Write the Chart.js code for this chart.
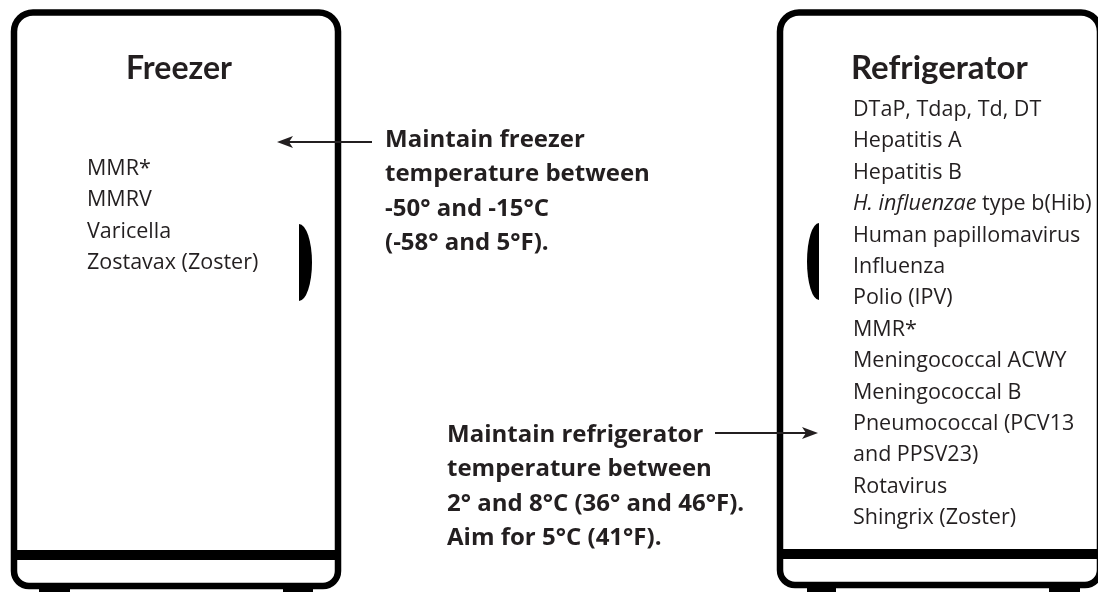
<!DOCTYPE html>
<html>
<head>
<meta charset="utf-8">
<script src="https://cdn.jsdelivr.net/npm/chart.js@4.4.1/dist/chart.umd.min.js"></script>
<style>
  html, body { margin: 0; padding: 0; background: #ffffff; overflow: hidden; }
  #c { display: block; }
</style>
</head>
<body>
<canvas id="c" width="1098" height="592"></canvas>
<script>
// ---- content ----
const freezerTitle = 'Freezer';
const freezerVaccines = ['MMR*', 'MMRV', 'Varicella', 'Zostavax (Zoster)'];
const freezerNote = ['Maintain freezer', 'temperature between', '-50° and -15°C', '(-58° and 5°F).'];

const fridgeTitle = 'Refrigerator';
// text between underscores is italic
const fridgeVaccines = [
  'DTaP, Tdap, Td, DT',
  'Hepatitis A',
  'Hepatitis B',
  '_H. influenzae_ type b(Hib)',
  'Human papillomavirus',
  'Influenza',
  'Polio (IPV)',
  'MMR*',
  'Meningococcal ACWY',
  'Meningococcal B',
  'Pneumococcal (PCV13',
  'and PPSV23)',
  'Rotavirus',
  'Shingrix (Zoster)'
];
const fridgeNote = ['Maintain refrigerator', 'temperature between', '2° and 8°C (36° and 46°F).', 'Aim for 5°C (41°F).'];

// ---- drawing ----
const INK = '#231f20';
const LINE = '#000000';

const illustration = {
  id: 'illustration',
  afterDraw(chart) {
    const ctx = chart.ctx;
    const xs = chart.scales.x, ys = chart.scales.y;
    const X = v => xs.getPixelForValue(v);
    const Y = v => ys.getPixelForValue(v);

    function box(l, t, r, b, rt, rb) {
      l = X(l); r = X(r); t = Y(t); b = Y(b);
      ctx.beginPath();
      ctx.moveTo(l + rt, t);
      ctx.lineTo(r - rt, t);
      ctx.arcTo(r, t, r, t + rt, rt);
      ctx.lineTo(r, b - rb);
      ctx.arcTo(r, b, r - rb, b, rb);
      ctx.lineTo(l + rb, b);
      ctx.arcTo(l, b, l, b - rb, rb);
      ctx.lineTo(l, t + rt);
      ctx.arcTo(l, t, l + rt, t, rt);
      ctx.closePath();
      ctx.stroke();
    }
    function rect(l, t, r, b) {
      ctx.fillRect(X(l), Y(t), X(r) - X(l), Y(b) - Y(t));
    }
    function handle(xFlat, top, bottom, bulge) {
      const cy = (Y(top) + Y(bottom)) / 2, ry = (Y(bottom) - Y(top)) / 2;
      ctx.beginPath();
      if (bulge > 0) ctx.ellipse(X(xFlat), cy, bulge, ry, 0, -Math.PI / 2, Math.PI / 2);
      else ctx.ellipse(X(xFlat), cy, -bulge, ry, 0, Math.PI / 2, Math.PI * 1.5);
      ctx.closePath();
      ctx.fill();
    }
    function arrow(x0, x1, y) {
      const dir = Math.sign(x1 - x0);
      ctx.lineWidth = 2;
      ctx.beginPath();
      ctx.moveTo(X(x0), Y(y));
      ctx.lineTo(X(x1) - dir * 10, Y(y));
      ctx.stroke();
      ctx.beginPath();
      ctx.moveTo(X(x1), Y(y));
      ctx.lineTo(X(x1) - dir * 16, Y(y) - 6);
      ctx.lineTo(X(x1) - dir * 12, Y(y));
      ctx.lineTo(X(x1) - dir * 16, Y(y) + 6);
      ctx.closePath();
      ctx.fill();
    }
    function lines(arr, x, y0, step, font, italicFont) {
      arr.forEach((s, i) => {
        let cx = X(x);
        const cy = Y(y0 + i * step);
        const parts = s.split('_');
        parts.forEach((p, k) => {
          if (!p) return;
          ctx.font = (k % 2 === 1) ? italicFont : font;
          ctx.fillText(p, cx, cy);
          cx += ctx.measureText(p).width;
        });
      });
    }

    ctx.save();
    ctx.strokeStyle = LINE;
    ctx.fillStyle = LINE;
    ctx.lineJoin = 'round';

    // freezer body
    ctx.lineWidth = 6.5;
    box(14, 12.5, 338, 586, 19, 15);
    rect(14, 550, 338, 560);
    rect(39, 586, 70, 592);
    rect(283, 586, 313, 592);
    handle(299, 224, 301, 13);

    // refrigerator body
    ctx.lineWidth = 6.5;
    box(780, 12.5, 1100, 585, 19, 15);
    rect(780, 549, 1100, 559);
    rect(807, 585, 836, 592);
    rect(1049, 585, 1080, 592);
    handle(819, 223, 300, -12);

    // arrows
    ctx.strokeStyle = INK;
    ctx.fillStyle = INK;
    arrow(372, 277, 142);
    arrow(715, 818, 433);

    // text
    ctx.fillStyle = INK;
    ctx.textBaseline = 'alphabetic';
    ctx.textAlign = 'center';
    ctx.font = 'bold 32px Lato';
    ctx.fillText(freezerTitle, X(179), Y(79));
    ctx.textAlign = 'left';
    ctx.font = 'bold 33px Lato';
    ctx.fillText(fridgeTitle, X(851), Y(79));

    const reg = '21.5px "Open Sans"';
    const ital = 'italic 21.5px "Open Sans"';
    lines(freezerVaccines, 87, 175, 31.4, reg, ital);
    lines(fridgeVaccines, 853, 116, 31.4, reg, ital);

    const bold = 'bold 24px "Open Sans"';
    lines(freezerNote, 385, 147, 34.3, bold, bold);
    lines(fridgeNote, 447, 442, 34.3, bold, bold);

    ctx.restore();
  }
};

new Chart(document.getElementById('c').getContext('2d'), {
  type: 'scatter',
  data: { datasets: [{ data: [] }] },
  options: {
    responsive: false,
    animation: false,
    devicePixelRatio: 1,
    layout: { padding: 0 },
    events: [],
    plugins: { legend: { display: false }, tooltip: { enabled: false } },
    scales: {
      x: { type: 'linear', min: 0, max: 1098, display: false },
      y: { type: 'linear', min: 0, max: 592, reverse: true, display: false }
    }
  },
  plugins: [illustration]
});
</script>
</body>
</html>
